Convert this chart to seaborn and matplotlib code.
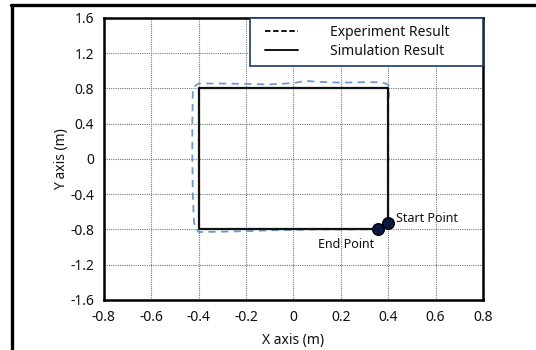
import matplotlib
matplotlib.use("Agg")
import matplotlib.pyplot as plt
from matplotlib.lines import Line2D
from matplotlib.legend_handler import HandlerLine2D
import seaborn as sns
import pandas as pd

# Simulation path (rectangle, from start point around to end point)
sim_x = [0.40, 0.40, -0.40, -0.40, 0.355]
sim_y = [-0.73, 0.80, 0.80, -0.80, -0.80]

# Experiment path
exp_x = [0.40, 0.40, 0.405, 0.395, 0.367, 0.30, 0.20, 0.10, 0.05, 0.00, -0.10, -0.20, -0.30,
         -0.40, -0.415, -0.425, -0.427, -0.427, -0.425, -0.42, -0.41, -0.40, -0.30, -0.20,
         -0.10, 0.00, 0.10, 0.20, 0.30, 0.355]
exp_y = [-0.75, 0.60, 0.82, 0.85, 0.87, 0.87, 0.865, 0.875, 0.885, 0.86, 0.845, 0.85, 0.855,
         0.855, 0.83, 0.78, 0.40, 0.00, -0.40, -0.72, -0.80, -0.83, -0.825, -0.82,
         -0.81, -0.805, -0.80, -0.80, -0.80, -0.80]

start_pt = (0.40, -0.73)
end_pt = (0.355, -0.80)

x_ticks = [-0.8, -0.6, -0.4, -0.2, 0, 0.2, 0.4, 0.6, 0.8]
x_labels = ["-0.8", "-0.6", "-0.4", "-0.2", "0", "0.2", "0.4", "0.6", "0.8"]
y_ticks = [1.6, 1.2, 0.8, 0.4, 0, -0.4, -0.8, -1.2, -1.6]
y_labels = ["1.6", "1.2", "0.8", "0.4", "0", "-0.4", "-0.8", "-1.2", "-1.6"]

sns.set_theme(style="white")
plt.rcParams["font.family"] = ["Noto Sans", "DejaVu Sans"]

fig = plt.figure(figsize=(5.36, 3.5), dpi=100)
ax = fig.add_axes([0.194, 0.143, 0.707, 0.806])

exp_df = pd.DataFrame({"x": exp_x, "y": exp_y})
sim_df = pd.DataFrame({"x": sim_x, "y": sim_y})

sns.lineplot(data=exp_df, x="x", y="y", sort=False, estimator=None, ax=ax,
             color="#6f99cf", linewidth=1.3, linestyle=(0, (4, 3)), zorder=3)
sns.lineplot(data=sim_df, x="x", y="y", sort=False, estimator=None, ax=ax,
             color="#111111", linewidth=1.6, zorder=4)

pts = pd.DataFrame({"x": [start_pt[0], end_pt[0]], "y": [start_pt[1], end_pt[1]]})
sns.scatterplot(data=pts, x="x", y="y", ax=ax, s=70, color="#0b1a45",
                edgecolor="black", linewidth=1.0, zorder=5)

ax.text(0.432, -0.675, "Start Point", fontsize=9, ha="left", va="center", color="#111111")
ax.text(0.34, -0.97, "End Point", fontsize=9, ha="right", va="center", color="#111111")

ax.set_xlim(-0.8, 0.8)
ax.set_ylim(-1.6, 1.6)
ax.set_xticks(x_ticks)
ax.set_xticklabels(x_labels)
ax.set_yticks(y_ticks)
ax.set_yticklabels(y_labels)
ax.tick_params(axis="both", length=0, labelsize=10, colors="#111111", pad=7)
ax.grid(True, linestyle=(0, (1, 1)), color="#777777", linewidth=0.8)
ax.set_axisbelow(True)
for s in ax.spines.values():
    s.set_visible(True)
    s.set_color("black")
    s.set_linewidth(1.8)

ax.set_xlabel("X axis (m)", fontsize=10, labelpad=6, color="#111111")
ax.set_ylabel("Y axis (m)", fontsize=10, labelpad=1, color="#111111")


class ShiftHandler(HandlerLine2D):
    def create_artists(self, legend, orig_handle, xdescent, ydescent, width, height,
                       fontsize, trans):
        return super().create_artists(legend, orig_handle, xdescent - 6, ydescent,
                                      width, height, fontsize, trans)


handles = [Line2D([0], [0], color="black", linewidth=1.3, linestyle=(0, (3, 1.5))),
           Line2D([0], [0], color="black", linewidth=1.3)]
leg = ax.legend(handles, ["Experiment Result", "Simulation Result"],
                loc="upper left", bbox_to_anchor=(0.385, 0.837, 0.615, 0.163),
                mode="expand", fontsize=10,
                frameon=True, fancybox=False, framealpha=1.0, borderaxespad=0,
                handlelength=2.4, handletextpad=2.85, borderpad=0.5, labelspacing=0.3,
                edgecolor="#1f3a6e",
                handler_map={Line2D: ShiftHandler()})
leg.get_frame().set_linewidth(1.2)
leg.set_zorder(10)
for t in leg.get_texts():
    t.set_color("#111111")

# outer frame (left and top edges)
fig.add_artist(Line2D([0.0225, 0.0225], [0.0, 0.986], color="black", linewidth=2.4,
                      transform=fig.transFigure))
fig.add_artist(Line2D([0.0205, 1.0], [0.986, 0.986], color="black", linewidth=2.4,
                      transform=fig.transFigure))

fig.savefig("out.png", dpi=100)
